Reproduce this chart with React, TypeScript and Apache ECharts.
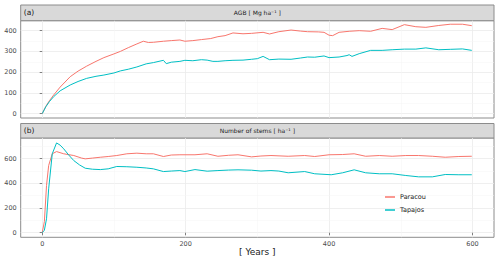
import React, { useEffect, useRef } from "react";
import * as echarts from "echarts";

const seriesNames = ["Paracou", "Tapajos"];
const colors = ["#F8766D", "#00BFC4"];

const agbParacou: [number, number][] = [
  [0, 0], [5, 35], [10, 62], [16, 90], [25, 128], [39, 178], [50, 205], [62, 229], [75, 252], [86, 270],
  [100, 288], [109, 300], [120, 318], [132, 336], [141, 349], [148, 343], [155, 344], [169, 349], [180, 352],
  [192, 355], [199, 349], [210, 352], [222, 357], [235, 362], [245, 371], [255, 376], [266, 389], [280, 385],
  [292, 387], [308, 392], [317, 384], [330, 395], [347, 403], [360, 398], [370, 395], [385, 394], [393, 392],
  [400, 378], [405, 376], [414, 392], [428, 397], [442, 400], [458, 397], [474, 411], [488, 405], [505, 429],
  [521, 419], [535, 416], [553, 425], [569, 431], [586, 431], [599, 424],
];
const agbTapajos: [number, number][] = [
  [0, 0], [5, 33], [10, 58], [16, 82], [25, 110], [39, 138], [50, 155], [62, 170], [75, 180], [86, 186],
  [100, 196], [109, 206], [120, 214], [132, 225], [145, 240], [155, 246], [169, 257], [173, 241], [180, 248],
  [192, 252], [199, 257], [210, 255], [222, 260], [230, 258], [238, 252], [245, 252], [255, 255], [266, 257],
  [280, 258], [292, 262], [300, 265], [308, 276], [317, 260], [330, 263], [347, 262], [360, 268], [370, 273],
  [380, 272], [393, 278], [400, 270], [414, 273], [425, 280], [428, 284], [432, 276], [442, 289], [458, 305],
  [474, 305], [488, 308], [505, 311], [521, 311], [535, 317], [553, 308], [569, 310], [586, 312], [599, 305],
];
const stemsParacou: [number, number][] = [
  [0, 0], [3, 90], [6, 383], [9, 545], [14, 640], [20, 658], [30, 640], [44, 626], [55, 605], [60, 599],
  [70, 605], [81, 612], [92, 618], [104, 626], [118, 640], [132, 645], [145, 640], [155, 640], [169, 618],
  [180, 630], [192, 632], [213, 632], [230, 640], [245, 620], [260, 628], [273, 632], [292, 615], [305, 622],
  [319, 626], [343, 620], [366, 626], [380, 618], [400, 632], [419, 634], [435, 640], [451, 620], [470, 626],
  [488, 620], [507, 626], [525, 626], [544, 620], [562, 612], [581, 618], [599, 620],
];
const stemsTapajos: [number, number][] = [
  [0, 0], [3, 20], [6, 113], [9, 356], [14, 640], [20, 728], [25, 710], [30, 680], [37, 630], [44, 585],
  [52, 550], [60, 523], [70, 515], [81, 512], [92, 518], [104, 537], [118, 535], [132, 531], [145, 525],
  [155, 518], [169, 496], [180, 500], [192, 504], [199, 496], [213, 512], [230, 499], [245, 504], [260, 508],
  [273, 510], [292, 507], [305, 500], [319, 504], [330, 500], [343, 486], [366, 496], [380, 478], [403, 470],
  [419, 486], [435, 510], [451, 486], [470, 478], [488, 478], [507, 464], [525, 453], [544, 453], [562, 472],
  [581, 470], [599, 470],
];

const xTicks = [0, 200, 400, 600];
const xMinor = [100, 300, 500];
const agbTicks = [0, 100, 200, 300, 400];
const agbMinor = [50, 150, 250, 350];
const stemTicks = [0, 200, 400, 600];
const stemMinor = [100, 300, 500, 700];

const panelTitles = ["AGB [ Mg ha⁻¹ ]", "Number of stems [ ha⁻¹ ]"];
const panelTags = ["(a)", "(b)"];
const xTitle = "[ Years ]";

export default function App() {
  const ref = useRef<HTMLDivElement>(null);
  useEffect(() => {
    if (!ref.current) return;
    const chart = echarts.init(ref.current, null, { renderer: "svg" });
    const L = 20.7, W = 473.3;
    const grids = [
      { left: L, top: 20.7, width: W, height: 97.3 },
      { left: L, top: 138, width: W, height: 99.3 },
    ];
    const strips = [
      { top: 5, h: 15.7 },
      { top: 123.5, h: 14.5 },
    ];
    const border = "#8c8c8c";
    const gridLine = "#ebebeb";
    const minorLine = "#f5f5f5";
    const tickLabel = { color: "#4d4d4d", fontSize: 6.5, fontFamily: "DejaVu Sans" };

    const mkX = (idx: number, showLabels: boolean) => ({
      type: "value",
      gridIndex: idx,
      min: -30,
      max: 630,
      axisLine: { show: false },
      axisTick: showLabels
        ? { show: true, length: 2.5, lineStyle: { color: "#333", width: 0.6 }, customValues: xTicks }
        : { show: false, customValues: xTicks },
      axisLabel: showLabels
        ? { show: true, margin: 3.5, customValues: xTicks, ...tickLabel }
        : { show: false },
      splitLine: { show: true, lineStyle: { color: gridLine, width: 0.8 } },
    });
    const mkY = (idx: number, min: number, max: number, ticks: number[]) => ({
      type: "value",
      gridIndex: idx,
      min,
      max,
      axisLine: { show: false },
      axisTick: { show: true, length: 2.5, lineStyle: { color: "#333", width: 0.6 }, customValues: ticks },
      axisLabel: { show: true, margin: 4, customValues: ticks, ...tickLabel },
      splitLine: { show: true, lineStyle: { color: gridLine, width: 0.8 } },
    });

    const minorMark = (xs: number[], ys: number[]) => ({
      silent: true,
      symbol: "none",
      label: { show: false },
      lineStyle: { color: minorLine, width: 0.5, type: "solid" },
      data: [...xs.map((v) => ({ xAxis: v })), ...ys.map((v) => ({ yAxis: v }))],
      z: 0,
    });

    const lineSeries = (name: string, data: [number, number][], idx: number, color: string, mark?: any) => ({
      type: "line",
      name,
      xAxisIndex: idx,
      yAxisIndex: idx,
      data,
      showSymbol: false,
      symbol: "none",
      lineStyle: { color, width: 1 },
      itemStyle: { color },
      z: 3,
      ...(mark ? { markLine: mark } : {}),
    });

    const graphic: any[] = [];
    strips.forEach((s, i) => {
      graphic.push({
        type: "rect",
        shape: { x: L, y: s.top, width: W, height: s.h },
        style: { fill: "#d9d9d9", stroke: border, lineWidth: 1 },
      });
      graphic.push({
        type: "text",
        x: L + 3,
        y: s.top + s.h / 2,
        style: { text: panelTags[i], fill: "#1a1a1a", fontSize: 7.5, fontFamily: "DejaVu Sans", verticalAlign: "middle", align: "left" },
      });
      graphic.push({
        type: "text",
        x: L + W / 2,
        y: s.top + s.h / 2,
        style: { text: panelTitles[i], fill: "#1a1a1a", fontSize: 6, fontFamily: "DejaVu Sans", verticalAlign: "middle", align: "center" },
      });
    });
    graphic.push({
      type: "text",
      x: L + W / 2,
      y: 252,
      style: { text: xTitle, fill: "#1a1a1a", fontSize: 9, fontFamily: "DejaVu Sans", verticalAlign: "middle", align: "center" },
    });

    chart.setOption({
      animation: false,
      backgroundColor: "#ffffff",
      grid: grids.map((g) => ({ ...g, show: true, borderColor: border, borderWidth: 1, backgroundColor: "#fff", containLabel: false })),
      xAxis: [mkX(0, false), mkX(1, true)],
      yAxis: [mkY(0, -21, 448, agbTicks), mkY(1, -37, 768, stemTicks)],
      legend: {
        orient: "vertical",
        left: 380,
        top: 188,
        itemWidth: 10,
        itemHeight: 1.5,
        itemGap: 5,
        icon: "rect",
        data: seriesNames,
        textStyle: { color: "#1a1a1a", fontSize: 6.5, fontFamily: "DejaVu Sans", lineHeight: 8 },
      },
      series: [
        lineSeries(seriesNames[0], agbParacou, 0, colors[0], minorMark(xMinor, agbMinor)),
        lineSeries(seriesNames[1], agbTapajos, 0, colors[1]),
        lineSeries(seriesNames[0], stemsParacou, 1, colors[0], minorMark(xMinor, stemMinor)),
        lineSeries(seriesNames[1], stemsTapajos, 1, colors[1]),
      ],
      graphic,
    } as any);
    return () => chart.dispose();
  }, []);
  return <div ref={ref} style={{ position: "fixed", left: 0, top: 0, width: 500, height: 261 }} />;
}
